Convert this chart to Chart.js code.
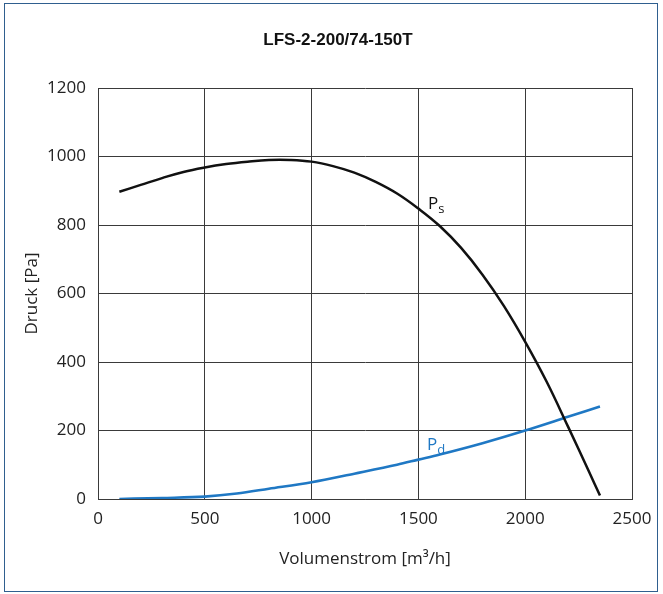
<!DOCTYPE html>
<html>
<head>
<meta charset="utf-8">
<title>LFS-2-200/74-150T</title>
<script src="https://cdn.jsdelivr.net/npm/chart.js@4.4.1/dist/chart.umd.min.js"></script>
<style>
  html, body { margin: 0; padding: 0; background: #ffffff; }
  #wrap { position: relative; width: 663px; height: 594px; }
  #frame {
    position: absolute; left: 4px; top: 3px; width: 654px; height: 589px;
    box-sizing: border-box; border: 1.5px solid #2f5f8f;
  }
  #chart { position: absolute; left: 0; top: 0; }
</style>
</head>
<body>
<div id="wrap">
  <div id="frame"></div>
  <canvas id="chart" width="663" height="594"></canvas>
</div>
<script>
// Fan curve: static pressure Ps and dynamic pressure Pd over volume flow
const chartTitle = 'LFS-2-200/74-150T';
const xAxisTitle = 'Volumenstrom [m\u00B3/h]';
const yAxisTitle = 'Druck [Pa]';

const psFlow = [100, 200, 300, 400, 500, 600, 700, 800, 900, 1000, 1100, 1200, 1300, 1400, 1500, 1600, 1700, 1800, 1900, 2000, 2100, 2200, 2300, 2350];
const psPressure = [897, 917, 937, 955, 968, 978, 985, 990, 990, 985, 972, 953, 926, 892, 848, 797, 733, 655, 564, 459, 343, 212, 78, 10];

const pdFlow = [100, 300, 500, 650, 800, 1000, 1200, 1400, 1500, 1600, 1800, 2000, 2200, 2350];
const pdPressure = [0, 3, 7, 16, 30, 49, 74, 100, 115, 130, 163, 200, 240, 270];

// curve labels, placed in data coordinates
const curveLabels = [
  { main: 'P', sub: 's', x: 1545, y: 846, color: '#111111' },
  { main: 'P', sub: 'd', x: 1540, y: 143, color: '#1f78c4' }
];

const xMin = 0, xMax = 2500, xStep = 500;
const yMin = 0, yMax = 1200, yStep = 200;

const tickFont = { family: 'Open Sans', size: 17 };
const gridColor = '#3a3a3a';

function toPoints(xs, ys) {
  return xs.map((x, i) => ({ x: x, y: ys[i] }));
}

// title and Ps/Pd labels
const annotations = {
  id: 'annotations',
  afterDatasetsDraw(chart) {
    const ctx = chart.ctx;
    const xs = chart.scales.x;
    const ys = chart.scales.y;
    ctx.save();

    ctx.fillStyle = '#111111';
    ctx.font = 'bold 17px "Liberation Sans", Arial, sans-serif';
    ctx.textAlign = 'center';
    ctx.textBaseline = 'middle';
    ctx.fillText(chartTitle, 338, 40);

    ctx.textAlign = 'left';
    ctx.textBaseline = 'alphabetic';
    curveLabels.forEach(l => {
      const px = xs.getPixelForValue(l.x);
      const py = ys.getPixelForValue(l.y);
      ctx.fillStyle = l.color;
      ctx.font = '17px "Open Sans", sans-serif';
      ctx.fillText(l.main, px, py);
      const w = ctx.measureText(l.main).width;
      ctx.font = '13px "Open Sans", sans-serif';
      ctx.fillText(l.sub, px + w, py + 4);
    });
    ctx.restore();
  }
};

const plainTick = value => String(value);

new Chart(document.getElementById('chart'), {
  type: 'line',
  data: {
    datasets: [
      {
        label: 'Ps',
        data: toPoints(psFlow, psPressure),
        borderColor: '#111111',
        borderWidth: 2.5,
        pointRadius: 0,
        tension: 0.4,
        fill: false
      },
      {
        label: 'Pd',
        data: toPoints(pdFlow, pdPressure),
        borderColor: '#1f78c4',
        borderWidth: 2.6,
        pointRadius: 0,
        cubicInterpolationMode: 'monotone',
        fill: false
      }
    ]
  },
  options: {
    responsive: false,
    devicePixelRatio: 1,
    animation: false,
    layout: { padding: { left: 0, right: 31, top: 88, bottom: 0 } },
    plugins: {
      legend: { display: false },
      tooltip: { enabled: false }
    },
    scales: {
      x: {
        type: 'linear',
        min: xMin,
        max: xMax,
        ticks: { stepSize: xStep, color: '#222222', font: tickFont, padding: 10, callback: plainTick },
        grid: { color: gridColor, lineWidth: 1, drawTicks: false },
        border: { color: gridColor, width: 1 },
        title: {
          display: true,
          text: xAxisTitle,
          color: '#222222',
          font: tickFont,
          padding: { top: 0, bottom: 25 }
        },
        afterFit(scale) { scale.height = 95; }
      },
      y: {
        type: 'linear',
        min: yMin,
        max: yMax,
        ticks: { stepSize: yStep, color: '#222222', font: tickFont, padding: 12, callback: plainTick },
        grid: { color: gridColor, lineWidth: 1, drawTicks: false },
        border: { color: gridColor, width: 1 },
        title: {
          display: true,
          text: yAxisTitle,
          color: '#222222',
          font: tickFont,
          padding: { top: 22, bottom: 0 }
        },
        afterFit(scale) { scale.width = 98; }
      }
    }
  },
  plugins: [annotations]
});
</script>
</body>
</html>
